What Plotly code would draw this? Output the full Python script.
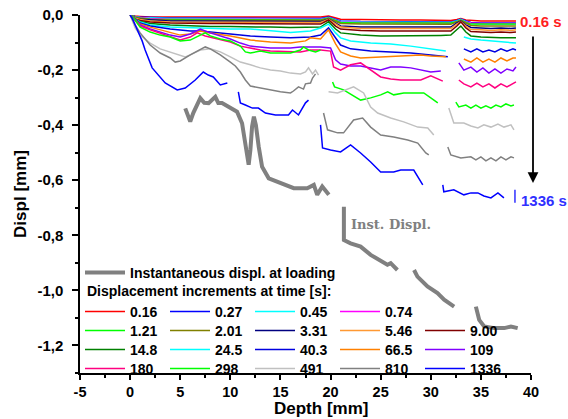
import plotly.graph_objects as go

# ---------------- data (depth in mm, displacement in mm) ----------------
TIME_LABELS = ["0.16", "0.27", "0.45", "0.74", "1.21", "2.01", "3.31", "5.46", "9.00",
               "14.8", "24.5", "40.3", "66.5", "109", "180", "298", "491", "810", "1336"]
COLORS = ["#ff0000", "#0000ff", "#00ffff", "#ff00ff", "#00ff00", "#808000", "#000080",
          "#ff9933", "#800000", "#008000", "#00ffff", "#0000e0", "#ff8000", "#8000ff",
          "#ff0080", "#00ff00", "#c0c0c0", "#808080", "#0000ff"]
# legend row of each series (4 + 5 + 5 + 5 entries)
LEGEND_ROW = ["legend"] * 4 + ["legend3"] * 5 + ["legend4"] * 5 + ["legend5"] * 5

# instantaneous displacement at loading (None = gap between segments)
INST_DEPTH = [5.5, 6.0, 6.3, 7.0, 7.4, 7.83, 8.5, 8.8, 9.17, 9.9, 10.67, 11.17, 11.5, 11.83,
              12.0, 12.17, 12.35, 12.55, 12.83, 13.17, 13.83, 14.67, 15.33, 16.33, 17.67,
              18.33, 18.67, 19.17, 19.83, None,
              21.33, 21.33, 22.0, 23.0, 24.0, 25.0, 25.67, 26.0, 26.67, None,
              28.33, 28.67, 29.67, 30.67, 31.33, 32.33, None,
              34.5, 34.83, 35.33, 36.33, 37.33, 38.0, 38.67]
INST_DISPL = [-0.339, -0.387, -0.356, -0.302, -0.319, -0.320, -0.297, -0.320, -0.320, -0.334,
              -0.351, -0.393, -0.478, -0.544, -0.490, -0.405, -0.369, -0.400, -0.478, -0.551,
              -0.593, -0.605, -0.617, -0.629, -0.629, -0.617, -0.653, -0.623, -0.653, None,
              -0.696, -0.817, -0.829, -0.841, -0.871, -0.895, -0.907, -0.901, -0.926, None,
              -0.926, -0.950, -0.986, -1.010, -1.034, -1.059, None,
              -1.059, -1.107, -1.131, -1.137, -1.137, -1.131, -1.137]

# shared depth grid of the ten upper (short-time) curves
UPPER_DEPTH = [0, 0.5, 1, 2, 4, 6, 8, 10, 12, 14, 16, 18, 19, 19.8, 20.5, 21, 23, 25, 27, 29,
               31, 32, 32.6, 33, 33.5, 34, 35, 36, 37, 38, 38.5]
V_0_16 = [0, -0.004, -0.005, -0.007, -0.007, -0.007, -0.007, -0.007, -0.007, -0.007, -0.007,
          -0.007, -0.007, -0.004, -0.011, -0.015, -0.016, -0.018, -0.018, -0.018, -0.018,
          -0.020, -0.016, -0.013, -0.018, -0.020, -0.022, -0.022, -0.022, -0.022, -0.022]
V_0_27 = [0, -0.005, -0.007, -0.009, -0.011, -0.011, -0.011, -0.011, -0.011, -0.011, -0.011,
          -0.011, -0.013, -0.007, -0.016, -0.022, -0.024, -0.024, -0.024, -0.025, -0.025,
          -0.025, -0.020, -0.015, -0.022, -0.027, -0.029, -0.029, -0.029, -0.029, -0.029]
V_0_45 = [0, -0.007, -0.009, -0.011, -0.013, -0.013, -0.013, -0.013, -0.013, -0.013, -0.013,
          -0.013, -0.015, -0.009, -0.018, -0.024, -0.025, -0.025, -0.025, -0.027, -0.027,
          -0.027, -0.022, -0.016, -0.024, -0.031, -0.033, -0.033, -0.033, -0.033, -0.033]
V_0_74 = [0, -0.007, -0.009, -0.013, -0.015, -0.015, -0.015, -0.015, -0.015, -0.015, -0.015,
          -0.015, -0.016, -0.011, -0.020, -0.025, -0.027, -0.027, -0.027, -0.027, -0.029,
          -0.029, -0.024, -0.018, -0.025, -0.029, -0.031, -0.031, -0.031, -0.031, -0.031]
V_1_21 = [0, -0.007, -0.011, -0.015, -0.016, -0.016, -0.016, -0.016, -0.016, -0.016, -0.016,
          -0.016, -0.018, -0.011, -0.022, -0.027, -0.029, -0.029, -0.029, -0.029, -0.029,
          -0.029, -0.024, -0.018, -0.027, -0.033, -0.033, -0.033, -0.033, -0.033, -0.033]
V_2_01 = [0, -0.009, -0.013, -0.016, -0.018, -0.018, -0.018, -0.018, -0.018, -0.018, -0.018,
          -0.018, -0.020, -0.013, -0.024, -0.031, -0.033, -0.033, -0.033, -0.034, -0.034,
          -0.034, -0.025, -0.020, -0.029, -0.038, -0.040, -0.040, -0.040, -0.040, -0.040]
V_3_31 = [0, -0.011, -0.015, -0.018, -0.022, -0.022, -0.022, -0.022, -0.022, -0.022, -0.024,
          -0.022, -0.024, -0.015, -0.029, -0.040, -0.044, -0.044, -0.044, -0.045, -0.045,
          -0.044, -0.029, -0.022, -0.036, -0.045, -0.047, -0.049, -0.047, -0.049, -0.047]
V_5_46 = [0, -0.011, -0.016, -0.022, -0.025, -0.025, -0.025, -0.027, -0.027, -0.027, -0.027,
          -0.025, -0.027, -0.016, -0.033, -0.044, -0.049, -0.049, -0.049, -0.051, -0.051,
          -0.049, -0.033, -0.024, -0.040, -0.053, -0.054, -0.056, -0.054, -0.056, -0.054]
V_9_00 = [0, -0.015, -0.020, -0.025, -0.029, -0.031, -0.031, -0.031, -0.031, -0.031, -0.033,
          -0.031, -0.033, -0.018, -0.040, -0.051, -0.056, -0.058, -0.058, -0.060, -0.060,
          -0.058, -0.040, -0.025, -0.047, -0.060, -0.062, -0.064, -0.062, -0.064, -0.062]
V_14_8 = [0, -0.016, -0.024, -0.031, -0.036, -0.040, -0.042, -0.042, -0.044, -0.044, -0.045,
          -0.044, -0.044, -0.024, -0.051, -0.065, -0.073, -0.076, -0.076, -0.076, -0.074,
          -0.073, -0.054, -0.040, -0.062, -0.076, -0.080, -0.082, -0.083, -0.083, -0.083]

D_24_5 = [0, 0.5, 1, 2, 4, 6, 8, 10, 12, 14, 16, 18, 19, 19.8, 20.5, 21, 22, 24, 26, 28, 30, 31.5,
          None, 33.3, 34, 35, 36, 37, 38.5]
V_24_5 = [0, -0.015, -0.025, -0.036, -0.044, -0.047, -0.049, -0.051, -0.051, -0.058, -0.064,
          -0.058, -0.047, -0.033, -0.065, -0.083, -0.094, -0.102, -0.105, -0.113, -0.123, -0.131,
          None, -0.080, -0.087, -0.091, -0.094, -0.098, -0.102]

D_40_3 = [0, 0.5, 1, 2, 4, 6, 7, 8, 10, 12, 14, 16, 18, 19, 19.8, 20.5, 21, 22, 24, 26, 28, 30, 31.7,
          None, 33.3, 34, 34.6, 35.2, 35.8, 36.4, 37, 37.6, 38.2, 38.5]
V_40_3 = [0, -0.015, -0.029, -0.040, -0.051, -0.058, -0.058, -0.062, -0.069, -0.076, -0.080,
          -0.083, -0.080, -0.073, -0.047, -0.083, -0.109, -0.123, -0.131, -0.134, -0.138, -0.145,
          -0.152, None, -0.123, -0.134, -0.123, -0.134, -0.127, -0.134, -0.123, -0.131, -0.123,
          -0.127]

D_66_5 = [0, 0.5, 1, 2, 4, 5, 6, 7, 8, 10, 12, 14, 16, 17.5, 18, 19, 19.8, 20.5, 21, 22, 23, 25,
          27, 29, 30, 31.5, None, 33.3, 34, 34.6, 35.2, 35.8, 36.4, 37, 37.6, 38.2, 38.5]
V_66_5 = [0, -0.018, -0.033, -0.044, -0.062, -0.073, -0.069, -0.058, -0.065, -0.076, -0.091,
          -0.098, -0.102, -0.094, -0.083, -0.087, -0.054, -0.105, -0.134, -0.149, -0.156, -0.152,
          -0.149, -0.145, -0.149, -0.152, None, -0.160, -0.171, -0.156, -0.171, -0.160, -0.171,
          -0.156, -0.167, -0.156, -0.156]

D_109 = [0, 0.5, 1, 2, 4, 5, 6, 7, 8, 10, 11, 12, 13, 14, 16, 17, 18, 19, 20, 20.5, 21, 22, 23,
         24, 25, 26, 27, 28, 29, 30, 31, None, 32.8, 33.3, 34, 34.6, 35.2, 35.8, 36.4, 37, 37.6,
         38.2, 38.5]
V_109 = [0, -0.018, -0.036, -0.051, -0.073, -0.080, -0.069, -0.051, -0.065, -0.087, -0.102,
         -0.113, -0.116, -0.120, -0.120, -0.116, -0.116, -0.116, -0.120, -0.163, -0.178, -0.185,
         -0.185, -0.192, -0.200, -0.189, -0.189, -0.192, -0.200, -0.207, -0.203, None, -0.174,
         -0.200, -0.189, -0.207, -0.192, -0.211, -0.196, -0.211, -0.196, -0.203, -0.189]

D_180 = [0, 0.5, 1, 2, 4, 5, 6, 6.7, 7.5, 8, 10, 11, 12, 13, 14, 16, 17, 18, 19, 20, 20.3, 21, 22,
         23, 24, 25, 26, 27, 28, 29, 30, 30.5, 31.2, None, 32.8, 33.3, 34, 34.6, 35.2, 35.8, 36.4,
         37, 37.6, 38.2, 38.5]
V_180 = [0, -0.022, -0.040, -0.054, -0.080, -0.091, -0.080, -0.065, -0.076, -0.080, -0.098,
         -0.113, -0.120, -0.127, -0.131, -0.134, -0.134, -0.127, -0.127, -0.131, -0.189, -0.200,
         -0.181, -0.174, -0.200, -0.225, -0.232, -0.236, -0.236, -0.236, -0.221, -0.229, -0.240,
         None, -0.236, -0.250, -0.261, -0.247, -0.261, -0.250, -0.265, -0.250, -0.261, -0.250,
         -0.243]

D_298 = [0, 0.5, 1, 2, 3, 4, 5, 6, 7, 7.5, 8, 9, 10, 11, 11.5, 12, 13, 14, 15, 16, 17, 17.3, 17.8,
         18.5, 19, None, 20.2, 20.4, 21.3, 23, 24, 25, 25.7, 26.3, 27.3, 29.3, 30, 30.7, None,
         32.5, 32.8, 33.5, 34, 34.5, 35, 35.5, 36, 36.5, 37, 37.5, 38, 38.3]
V_298 = [0, -0.018, -0.044, -0.062, -0.073, -0.080, -0.094, -0.091, -0.073, -0.065, -0.076,
         -0.087, -0.094, -0.113, -0.134, -0.138, -0.131, -0.138, -0.138, -0.138, -0.127, -0.116,
         -0.127, -0.134, -0.127, None, -0.243, -0.261, -0.272, -0.309, -0.301, -0.290, -0.279,
         -0.290, -0.283, -0.283, -0.301, -0.319, None, -0.316, -0.334, -0.327, -0.338, -0.327,
         -0.338, -0.330, -0.338, -0.327, -0.334, -0.323, -0.330, -0.327]

D_491 = [0, 0.5, 1, 2, 3, 4, 5, 5.5, 6, 7, 8, 9, 10, 11, 12, 13, 14, 15, 16, 17, 17.5, 17.8, 18.2,
         18.5, 18.8, None, 19.8, 20.7, 22.3, 23.3, 24, 24.7, 26, 27.3, 28.7, 29.7, 30.3, None,
         31.8, 32.3, 33.3, 34, 34.7, 35.3, 36, 36.7, 37.3, 38, 38.3]
V_491 = [0, -0.047, -0.073, -0.102, -0.123, -0.134, -0.145, -0.152, -0.145, -0.127, -0.123,
         -0.134, -0.152, -0.171, -0.181, -0.192, -0.200, -0.203, -0.211, -0.214, -0.207, -0.192,
         -0.214, -0.200, -0.218, None, -0.279, -0.283, -0.261, -0.283, -0.334, -0.356, -0.374,
         -0.388, -0.407, -0.410, -0.436, None, -0.338, -0.392, -0.392, -0.403, -0.410, -0.399,
         -0.407, -0.396, -0.407, -0.399, -0.417]

D_810 = [0, 0.5, 1, 2, 3, 4, 4.5, 5, 6, 7, 7.5, 8, 9, 10, 10.5, 11, 11.5, 12, 13, 14, 15, 16, 16.3,
         16.8, 17.3, 17.5, 18, 18.2, 18.5, None, 19.3, 19.7, 20.7, 21.3, 22.3, 23.2, 24, 25, 26.3,
         27.7, 28.7, 29.5, 29.8, None, 31.7, 32, 33, 34, 34.5, 35, 35.5, 36, 36.5, 37, 37.5, 38,
         38.3]
V_810 = [0, -0.036, -0.065, -0.109, -0.138, -0.156, -0.171, -0.167, -0.145, -0.127, -0.116,
         -0.123, -0.145, -0.171, -0.185, -0.207, -0.236, -0.258, -0.265, -0.272, -0.279, -0.283,
         -0.276, -0.261, -0.269, -0.250, -0.247, -0.229, -0.214, None, -0.356, -0.417, -0.428,
         -0.428, -0.381, -0.374, -0.407, -0.436, -0.443, -0.454, -0.465, -0.501, -0.508, None,
         -0.479, -0.508, -0.519, -0.515, -0.526, -0.515, -0.530, -0.519, -0.530, -0.515, -0.526,
         -0.515, -0.519]

D_1336 = [0, 0.2, 1.2, 1.5, 2.2, 3.5, 4.7, 5.5, 6.5, 7.3, 7.8, 8.3, 9, 9.7, None,
          10.8, 11, 11.5, 12.2, 12.8, 13.5, 14.5, 15.8, 16.2, 16.8, 17.5, 17.8, None,
          19, 19.2, 20, 21, 22, 23, 24, 25, 26.3, 27, 28.3, 28.7, 29.2, None,
          31.2, 31.3, 32.3, 33.3, 34, 34.7, 35.3, 36, 36.7, 37.3]
V_1336 = [0, -0.011, -0.094, -0.127, -0.192, -0.247, -0.272, -0.265, -0.236, -0.207, -0.218,
          -0.225, -0.254, -0.247, None,
          -0.279, -0.319, -0.327, -0.338, -0.338, -0.356, -0.363, -0.363, -0.345, -0.363, -0.319,
          -0.309, None,
          -0.399, -0.483, -0.490, -0.497, -0.472, -0.501, -0.534, -0.570, -0.570, -0.563, -0.563,
          -0.588, -0.617, None,
          -0.617, -0.642, -0.635, -0.653, -0.646, -0.646, -0.657, -0.664, -0.646, -0.664]

SERIES_DEPTH = [UPPER_DEPTH] * 10 + [D_24_5, D_40_3, D_66_5, D_109, D_180, D_298, D_491, D_810, D_1336]
SERIES_VALUE = [V_0_16, V_0_27, V_0_45, V_0_74, V_1_21, V_2_01, V_3_31, V_5_46, V_9_00, V_14_8,
                V_24_5, V_40_3, V_66_5, V_109, V_180, V_298, V_491, V_810, V_1336]

X_TICKS = [-5, 0, 5, 10, 15, 20, 25, 30, 35, 40]
X_TICK_TEXT = ["-5", "0", "5", "10", "15", "20", "25", "30", "35", "40"]
Y_TICKS = [0, -0.2, -0.4, -0.6, -0.8, -1.0, -1.2]
Y_TICK_TEXT = ["0,0", "-0,2", "-0,4", "-0,6", "-0,8", "-1,0", "-1,2"]

FONT = "Liberation Sans, Arial, sans-serif"
LEG_FONT = dict(family=FONT, size=14, color="black", weight="bold")

fig = go.Figure()

fig.add_trace(go.Scatter(x=INST_DEPTH, y=INST_DISPL, mode="lines",
                         line=dict(color="#808080", width=4),
                         name="Instantaneous displ. at loading", legend="legend2",
                         connectgaps=False))

for lab, col, xs, ys, leg in zip(TIME_LABELS, COLORS, SERIES_DEPTH, SERIES_VALUE, LEGEND_ROW):
    fig.add_trace(go.Scatter(x=xs, y=ys, mode="lines", line=dict(color=col, width=1.5),
                             name=lab, legend=leg, connectgaps=False, cliponaxis=False))

axis_common = dict(showline=True, linecolor="black", linewidth=1.5, ticks="outside",
                   tickwidth=1.5, tickcolor="black", showgrid=False,
                   zeroline=False, mirror=False)


def row_legend(top_px, entry_w=30):
    # plot area spans 15..373 px vertically
    return dict(orientation="h", x=0, xanchor="left", y=(373 - top_px) / 358.0, yanchor="top",
                entrywidth=entry_w, entrywidthmode="pixels", itemwidth=40,
                bgcolor="rgba(0,0,0,0)", borderwidth=0, traceorder="normal", font=LEG_FONT)


fig.update_layout(
    width=568, height=419,
    margin=dict(l=80, r=37, t=15, b=46, autoexpand=False),
    paper_bgcolor="white", plot_bgcolor="white",
    font=dict(family=FONT, color="black"),
    showlegend=True,
    xaxis=dict(range=[-5, 40], tickvals=X_TICKS, ticktext=X_TICK_TEXT, ticklen=5,
               **axis_common,
               tickfont=dict(family=FONT, size=14.5, color="black", weight="bold"),
               minor=dict(ticks="outside", ticklen=3, dtick=2.5, tick0=0, tickwidth=1.5,
                          tickcolor="black"),
               ticklabelstandoff=0),
    yaxis=dict(range=[-1.3, 0], tickvals=Y_TICKS, ticktext=Y_TICK_TEXT, ticklen=6,
               **axis_common,
               tickfont=dict(family=FONT, size=15, color="black", weight="bold"),
               minor=dict(ticks="outside", ticklen=3, dtick=0.1, tick0=0, tickwidth=1.5,
                          tickcolor="black"),
               ticklabelstandoff=6,
               title=dict(text="Displ [mm]", standoff=6,
                          font=dict(family=FONT, size=17, color="black", weight="bold"))),
    legend2=row_legend(257, entry_w=260),
    legend=row_legend(296),
    legend3=row_legend(315),
    legend4=row_legend(334),
    legend5=row_legend(353),
    annotations=[
        # x-axis title, bottom-anchored at the lower page edge
        dict(x=(321 - 80) / 451.0, y=(373 - 418.5) / 358.0, xref="paper", yref="paper",
             text="Depth [mm]", showarrow=False, xanchor="center", yanchor="bottom",
             borderpad=0,
             font=dict(family=FONT, size=17, color="black", weight="bold")),
        dict(x=(85 - 80) / 451.0, y=(373 - 291) / 358.0, xref="paper", yref="paper",
             text="Displacement increments at time [s]:", showarrow=False,
             xanchor="left", yanchor="middle", font=LEG_FONT),
        dict(x=38.7, y=-0.022, xref="x", yref="y", text="0.16 s", showarrow=False,
             xanchor="left", yanchor="middle",
             font=dict(family=FONT, size=15, color="#ff2020", weight="bold")),
        dict(x=38.8, y=-0.672, xref="x", yref="y", text="1336 s", showarrow=False,
             xanchor="left", yanchor="middle",
             font=dict(family=FONT, size=15, color="#3030ff", weight="bold")),
        dict(x=26.0, y=-0.759, xref="x", yref="y", text="Inst. Displ.", showarrow=False,
             xanchor="center", yanchor="middle",
             font=dict(family="DejaVu Serif, serif", size=13, color="#808080", weight="bold")),
        # downward time arrow just right of the plot area
        dict(x=(533 - 80) / 451.0, y=-0.61, xref="paper", yref="y", ax=0, ay=-148,
             text="", showarrow=True, arrowhead=2, arrowsize=1.2, arrowwidth=1.8,
             arrowcolor="black"),
    ],
    shapes=[
        dict(type="line", xref="x", yref="y", x0=38.4, x1=38.4, y0=-0.635, y1=-0.682,
             line=dict(color="#3030ff", width=1.5)),
    ],
)

fig.write_html("out.html")
